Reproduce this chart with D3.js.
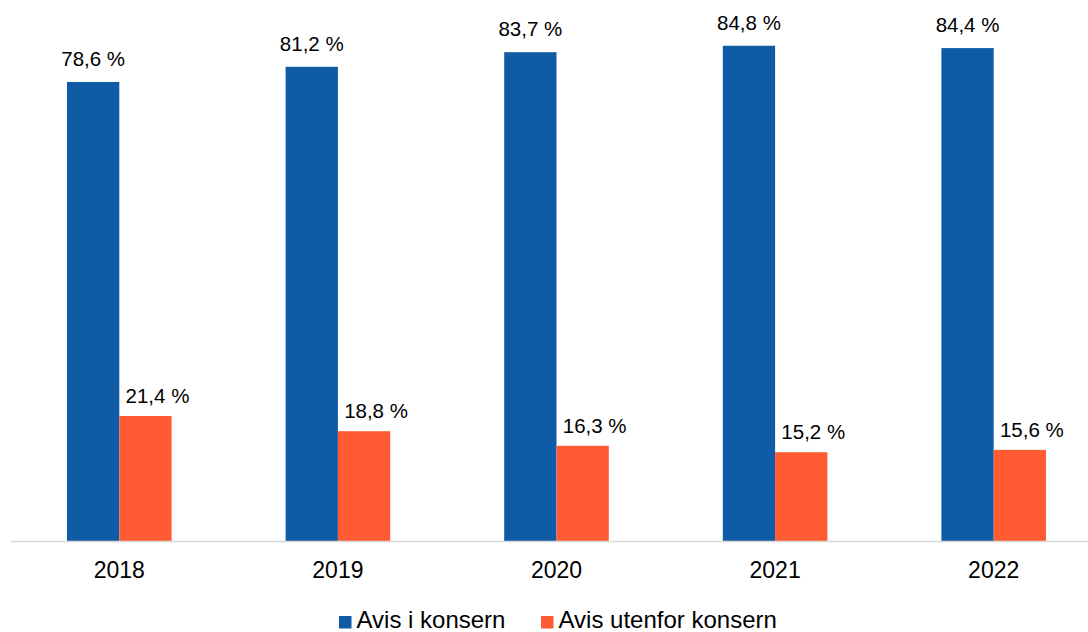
<!DOCTYPE html>
<html>
<head>
<meta charset="utf-8">
<script src="https://cdn.jsdelivr.net/npm/d3@7"></script>
<style>
  html, body { margin: 0; padding: 0; background: #fff; }
  svg { display: block; font-family: "Liberation Sans", Arial, sans-serif; }
</style>
</head>
<body>
<svg id="chart" width="1088" height="632"></svg>
<script>
const years = ["2018", "2019", "2020", "2021", "2022"];
const inGroup = [78.6, 81.2, 83.7, 84.8, 84.4];
const outsideGroup = [21.4, 18.8, 16.3, 15.2, 15.6];
const seriesNames = ["Avis i konsern", "Avis utenfor konsern"];
const colors = ["#0F5BA5", "#FF5A32"];

const fmt = v => v.toFixed(1).replace(".", ",") + " %";

const svg = d3.select("#chart");
const baseline = 541;

const x = d3.scaleBand().domain(years).range([10, 1103]).paddingInner(0).paddingOuter(0);
const barW = 52.3;
const y = d3.scaleLinear().domain([0, 90]).range([baseline, 15.4]);

const series = [inGroup, outsideGroup];

series.forEach((vals, si) => {
  const g = svg.append("g");
  const cx = d => x(d) + x.bandwidth() / 2;
  g.selectAll("rect")
    .data(years)
    .join("rect")
    .attr("x", (d) => cx(d) + (si === 0 ? -barW : 0))
    .attr("width", barW)
    .attr("y", (d, i) => y(vals[i]))
    .attr("height", (d, i) => baseline - y(vals[i]))
    .attr("fill", colors[si]);

  g.selectAll("text")
    .data(years)
    .join("text")
    .attr("x", d => cx(d) + (si === 0 ? -barW / 2 : barW / 2 + 12))
    .attr("y", (d, i) => y(vals[i]) - (si === 0 ? 16 : 13))
    .attr("text-anchor", "middle")
    .attr("font-size", 20.5)
    .attr("fill", "#000")
    .text((d, i) => fmt(vals[i]));
});

// category axis
const axis = d3.axisBottom(x).tickSize(0).tickPadding(0);
const ag = svg.append("g").attr("transform", `translate(0,${baseline})`).call(axis);
ag.select(".domain").attr("stroke", "#D9D9D9").attr("stroke-width", 1.5);
ag.selectAll("text")
  .attr("font-size", 23)
  .attr("font-family", "Liberation Sans, Arial, sans-serif")
  .attr("fill", "#000")
  .attr("dy", null)
  .attr("y", 37);

// legend
const legend = svg.append("g");
const legendItems = [
  { name: seriesNames[0], color: colors[0], x: 339 },
  { name: seriesNames[1], color: colors[1], x: 541 }
];
legendItems.forEach(it => {
  legend.append("rect")
    .attr("x", it.x).attr("y", 616).attr("width", 12.5).attr("height", 12.5)
    .attr("fill", it.color);
  legend.append("text")
    .attr("x", it.x + 17.5).attr("y", 628)
    .attr("font-size", 24)
    .attr("fill", "#000")
    .text(it.name);
});
</script>
</body>
</html>
